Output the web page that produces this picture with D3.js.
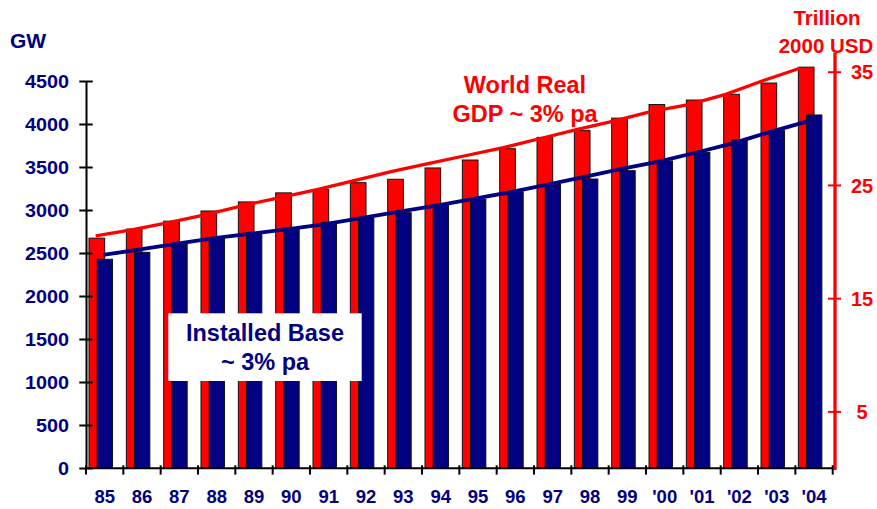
<!DOCTYPE html>
<html>
<head>
<meta charset="utf-8">
<script src="https://cdn.jsdelivr.net/npm/d3@7/dist/d3.min.js"></script>
<style>
    body { margin: 0; background: #fff; }
    svg text { font-family: "Liberation Sans", Arial, sans-serif; font-weight: bold; }
</style>
</head>
<body>
<svg></svg>
<script>
// categories (years) and series
let years = ["85", "86", "87", "88", "89", "90", "91", "92", "93", "94",
    "95", "96", "97", "98", "99", "'00", "'01", "'02", "'03", "'04"];
// installed base, GW (left axis)
let installedBase = [2427, 2508, 2601, 2671, 2740, 2795, 2857, 2911, 2969, 3066,
    3124, 3213, 3298, 3360, 3457, 3570, 3671, 3814, 3922, 4105];
// world real GDP, trillion 2000 USD (right axis)
let worldGdp = [20.3, 21.1, 21.8, 22.7, 23.5, 24.3, 24.6, 25.2, 25.5, 26.5,
    27.2, 28.2, 29.2, 29.8, 30.9, 32.1, 32.5, 33.0, 34.0, 35.4];
// trend lines ~3% pa
let baseTrend = [2477, 2543, 2610, 2672, 2724, 2778, 2836, 2908, 2980, 3052,
    3130, 3207, 3295, 3384, 3477, 3563, 3666, 3774, 3905, 4027];
let gdpTrend = [20.5, 21.05, 21.7, 22.4, 23.2, 23.9, 24.6, 25.4, 26.2, 26.9,
    27.6, 28.3, 29.1, 29.9, 30.65, 31.5, 32.1, 33.0, 34.2, 35.3];
let leftTicks = [0, 500, 1000, 1500, 2000, 2500, 3000, 3500, 4000, 4500];
let rightTicks = [5, 15, 25, 35];

let navy = "#000080";
let red = "#ff0000";

let width = 877;
let height = 509;
let svg = d3.select("svg")
    .attr("width", width)
    .attr("height", height);

// scales
let scaleX = d3.scaleBand()
    .domain(years)
    .range([86, 832.7])
    .padding(0);
let bw = scaleX.bandwidth();
let scaleL = d3.scaleLinear().domain([0, 4500]).range([468, 81]);
let scaleR = d3.scaleLinear().domain([0, 35]).range([468, 71.7]);

let last = years[years.length - 1];
let xRedLine = d3.scalePoint().domain(years)
    .range([scaleX(years[0]) + bw * 0.26, scaleX(last) + bw * 0.12]);
let xBlueLine = d3.scalePoint().domain(years)
    .range([scaleX(years[0]) + bw * 0.46, scaleX(last) + bw * 0.30]);

// red bars (GDP)
svg.append("g")
    .selectAll("rect")
    .data(years)
    .enter()
    .append("rect")
    .attr("x", d => scaleX(d) + bw * 0.08)
    .attr("width", bw * 0.42)
    .attr("y", (d, i) => scaleR(worldGdp[i]))
    .attr("height", (d, i) => scaleR(0) - scaleR(worldGdp[i]))
    .style("fill", red)
    .style("stroke", "#111")
    .style("stroke-width", 1);

// blue bars (installed base)
svg.append("g")
    .selectAll("rect")
    .data(years)
    .enter()
    .append("rect")
    .attr("x", d => scaleX(d) + bw * 0.30)
    .attr("width", bw * 0.41)
    .attr("y", (d, i) => scaleL(installedBase[i]))
    .attr("height", (d, i) => scaleL(0) - scaleL(installedBase[i]))
    .style("fill", navy)
    .style("stroke", "#111")
    .style("stroke-width", 1);

// trend lines
let redLine = d3.line()
    .x((d, i) => xRedLine(years[i]))
    .y(d => scaleR(d));
svg.append("path")
    .attr("d", redLine(gdpTrend))
    .style("fill", "none")
    .style("stroke", red)
    .style("stroke-width", 3.3);

let blueLine = d3.line()
    .x((d, i) => xBlueLine(years[i]))
    .y(d => scaleL(d));
svg.append("path")
    .attr("d", blueLine(baseTrend))
    .style("fill", "none")
    .style("stroke", navy)
    .style("stroke-width", 3.8);

// left axis
let axisL = svg.append("g")
    .attr("transform", `translate(${scaleX.range()[0]}, 0)`)
    .call(d3.axisLeft(scaleL).tickValues(leftTicks).tickFormat(d3.format("d")).tickSizeOuter(0));
axisL.select(".domain").style("stroke", "#000").style("stroke-width", 2);
axisL.selectAll(".tick line")
    .attr("x1", 6.7).attr("x2", -6.7)
    .style("stroke", "#000").style("stroke-width", 2);
axisL.selectAll(".tick text")
    .attr("x", -17 / 1.1)
    .attr("dy", "0.36em")
    .attr("transform", "scale(1.1,1)")
    .style("font-size", "18px")
    .style("fill", navy);

// right axis
let xr = 835;
let axisR = svg.append("g")
    .attr("transform", `translate(${xr}, 0)`)
    .call(d3.axisRight(scaleR).tickValues(rightTicks).tickFormat(d3.format("d")).tickSizeOuter(0));
axisR.select(".domain").remove();
axisR.append("line")
    .attr("x1", 0).attr("x2", 0)
    .attr("y1", scaleR(0) + 2).attr("y2", scaleR(36.7))
    .style("stroke", red).style("stroke-width", 3.3);
axisR.selectAll(".tick line")
    .attr("x1", -7).attr("x2", 6)
    .style("stroke", red).style("stroke-width", 2);
axisR.selectAll(".tick text")
    .attr("x", 27)
    .attr("dy", "0.36em")
    .attr("text-anchor", "middle")
    .style("font-size", "20px")
    .style("fill", red);

// bottom axis
let y0 = scaleL(0) + 0.3;
let axisX = svg.append("g")
    .attr("transform", `translate(0, ${y0})`)
    .call(d3.axisBottom(scaleX).tickSize(0));
axisX.select(".domain").remove();
axisX.selectAll(".tick text")
    .attr("y", 35)
    .attr("dy", 0)
    .style("font-size", "18.5px")
    .style("fill", navy);
axisX.append("line")
    .attr("x1", scaleX.range()[0]).attr("x2", scaleX.range()[1])
    .style("stroke", "#000").style("stroke-width", 2);
axisX.selectAll(".bound")
    .data(years.map(d => scaleX(d)).concat([scaleX.range()[1]]))
    .enter()
    .append("line")
    .attr("class", "bound")
    .attr("x1", d => d).attr("x2", d => d)
    .attr("y1", -3).attr("y2", 6.3)
    .style("stroke", "#000").style("stroke-width", 2);

// titles of axes
svg.append("text")
    .attr("x", 10).attr("y", 48)
    .style("font-size", "21px")
    .style("fill", navy)
    .text("GW");
svg.append("text")
    .attr("x", 827).attr("y", 25)
    .attr("text-anchor", "middle")
    .style("font-size", "20.5px")
    .style("fill", red)
    .text("Trillion");
svg.append("text")
    .attr("x", 826).attr("y", 53)
    .attr("text-anchor", "middle")
    .style("font-size", "20.5px")
    .style("fill", red)
    .text("2000 USD");

// annotations
svg.append("text")
    .attr("x", 525).attr("y", 93)
    .attr("text-anchor", "middle")
    .style("font-size", "23.5px")
    .style("fill", red)
    .text("World Real");
svg.append("text")
    .attr("x", 525).attr("y", 121.5)
    .attr("text-anchor", "middle")
    .style("font-size", "23.5px")
    .style("fill", red)
    .text("GDP ~ 3% pa");

svg.append("rect")
    .attr("x", 168.3).attr("y", 313.3)
    .attr("width", 193.4).attr("height", 67.7)
    .style("fill", "#fff");
svg.append("text")
    .attr("x", 265).attr("y", 341)
    .attr("text-anchor", "middle")
    .style("font-size", "23.5px")
    .style("fill", navy)
    .text("Installed Base");
svg.append("text")
    .attr("x", 265).attr("y", 370)
    .attr("text-anchor", "middle")
    .style("font-size", "23.5px")
    .style("fill", navy)
    .text("~ 3% pa");
</script>
</body>
</html>
